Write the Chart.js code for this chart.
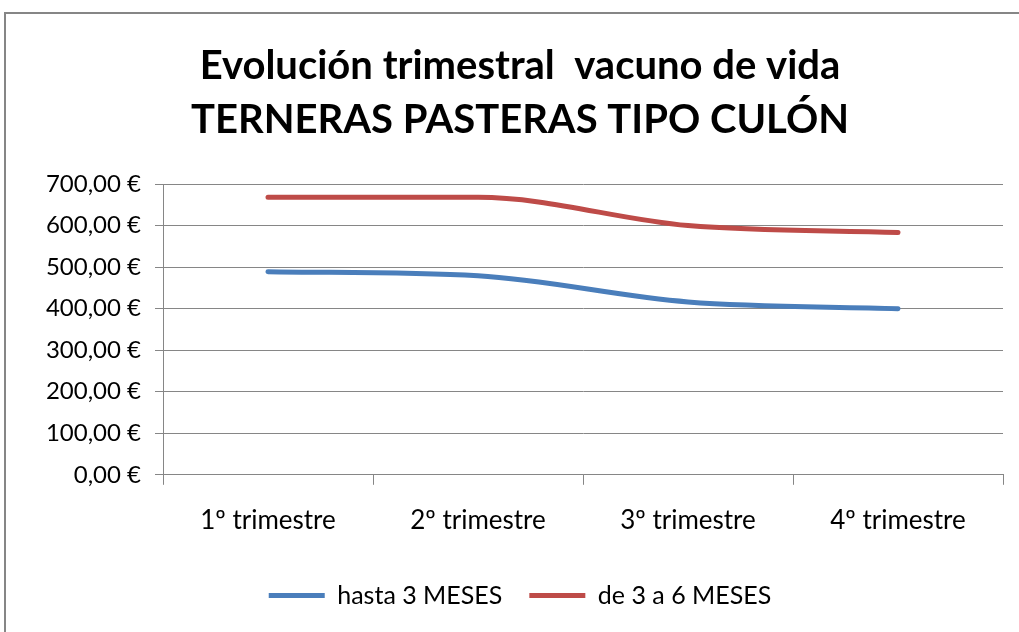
<!DOCTYPE html>
<html>
<head>
<meta charset="utf-8">
<script src="https://cdn.jsdelivr.net/npm/chart.js@4.4.0/dist/chart.umd.min.js"></script>
<style>
    body { margin: 0; background: #fff; overflow: hidden; }
    #marco {
        position: absolute; left: 4px; top: 12px;
        width: 1040px; height: 640px;
        border: 2px solid #868686;
        box-sizing: border-box;
    }
    canvas { position: absolute; left: 0; top: 0; }
</style>
</head>
<body>
<div id="marco"><canvas id="grafico" width="1013" height="618"></canvas></div>
<script>
"use strict"

const trimestres = ["1º trimestre", "2º trimestre", "3º trimestre", "4º trimestre"];
const hasta3Meses = [489, 479, 416, 400];
const de3a6Meses = [668, 668, 600, 583];
const titulo = ["Evolución trimestral  vacuno de vida", "TERNERAS PASTERAS TIPO CULÓN"];
const nombresSeries = ["hasta 3 MESES", "de 3 a 6 MESES"];

window.onload = function () {
    let canvas = document.getElementById("grafico");
    let gris = "#868686";
    let fuente = "Lato";

    let chart = new Chart(canvas, {
        type: "line",
        data: {
            labels: trimestres,
            datasets: [{
                label: nombresSeries[0],
                data: hasta3Meses,
                borderColor: "#4a7ebb",
                backgroundColor: "#4a7ebb",
                borderWidth: 5,
                borderCapStyle: "round",
                pointRadius: 0,
                cubicInterpolationMode: "monotone"
            }, {
                label: nombresSeries[1],
                data: de3a6Meses,
                borderColor: "#be4b48",
                backgroundColor: "#be4b48",
                borderWidth: 5,
                borderCapStyle: "round",
                pointRadius: 0,
                cubicInterpolationMode: "monotone"
            }]
        },
        options: {
            responsive: false,
            animation: false,
            layout: { padding: { top: 25, right: 16, bottom: 14, left: 31 } },
            plugins: {
                title: {
                    display: true,
                    text: titulo,
                    color: "#000",
                    font: { family: fuente, size: 40, weight: "bold", lineHeight: 1.35 },
                    padding: { top: 0, bottom: 37 }
                },
                legend: {
                    position: "bottom",
                    labels: {
                        color: "#000",
                        font: { family: fuente, size: 25 },
                        usePointStyle: true,
                        pointStyle: "line",
                        pointStyleWidth: 56,
                        boxHeight: 20,
                        padding: 27
                    }
                },
                tooltip: { enabled: false }
            },
            scales: {
                x: {
                    offset: true,
                    grid: {
                        offset: true,
                        drawOnChartArea: false,
                        color: gris,
                        tickLength: 10
                    },
                    border: { color: gris },
                    ticks: {
                        color: "#000",
                        font: { family: fuente, size: 26 },
                        padding: 20,
                        maxRotation: 0
                    }
                },
                y: {
                    min: 0,
                    max: 700,
                    grid: { color: gris, tickLength: 8 },
                    border: { color: gris },
                    ticks: {
                        stepSize: 100,
                        color: "#000",
                        font: { family: fuente, size: 24 },
                        padding: 14,
                        callback: function (v) {
                            return v.toFixed(2).replace(".", ",") + " €";
                        }
                    },
                    afterFit: function (scale) {
                        scale.width = 126;
                    }
                }
            }
        }
    });
}
</script>
</body>
</html>
